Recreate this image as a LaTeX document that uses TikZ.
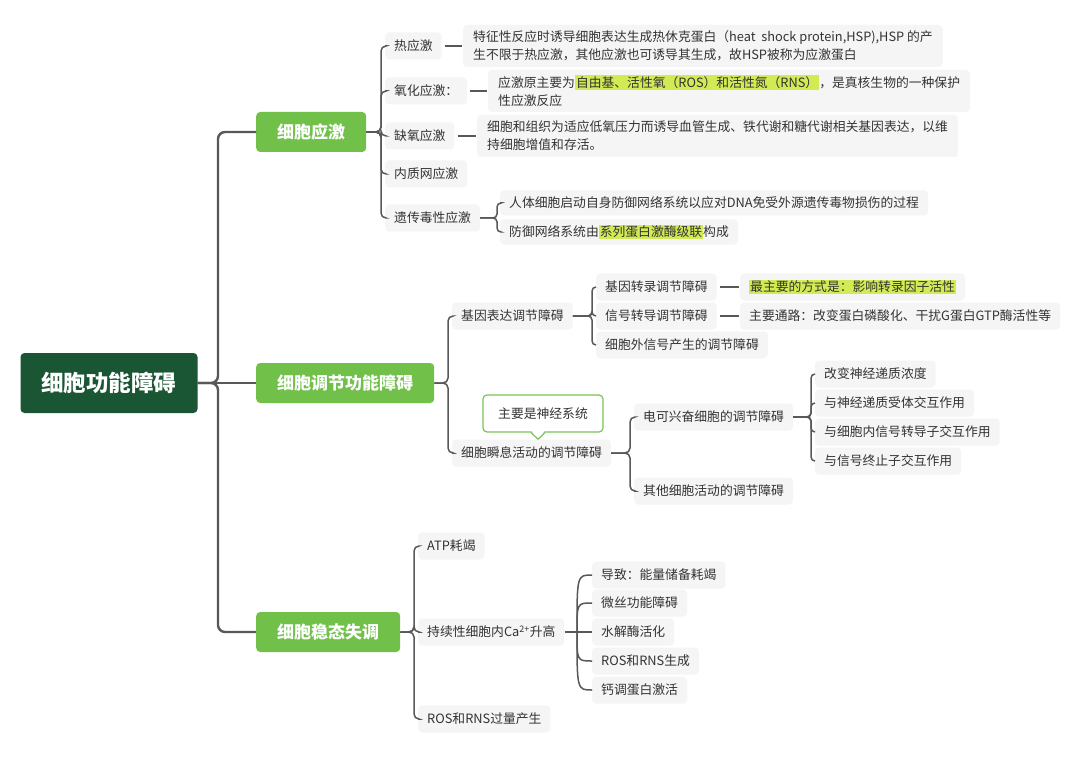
\documentclass[tikz,border=0pt]{standalone}
\usepackage{fontspec}
\setmainfont{Noto Sans CJK SC}
\usetikzlibrary{calc}
\definecolor{rootgreen}{RGB}{26,86,52}
\definecolor{maingreen}{RGB}{112,192,74}
\definecolor{calloutgreen}{RGB}{120,196,90}
\definecolor{boxgray}{RGB}{245,245,245}
\definecolor{linegray}{RGB}{88,88,88}
\definecolor{textgray}{RGB}{51,51,51}
\definecolor{hlcolor}{RGB}{210,234,84}
\newcommand{\myhl}[1]{{\setlength{\fboxsep}{1pt}\colorbox{hlcolor}{#1}}}
\tikzset{
  rootbox/.style={fill=rootgreen, rounded corners=4pt, text=white, font=\fontsize{22.5}{26}\selectfont\bfseries, inner xsep=21pt, minimum height=60pt},
  mainbox/.style={fill=maingreen, rounded corners=4pt, text=white, font=\fontsize{17}{20}\selectfont\bfseries, inner xsep=21pt, minimum height=40pt, anchor=west},
  gbox/.style={fill=boxgray, rounded corners=4pt, inner xsep=9pt, inner ysep=0pt, minimum height=27pt, text=textgray, font=\fontsize{12.8}{18}\selectfont, anchor=west},
  dbox/.style={gbox, align=left, inner xsep=10pt, inner ysep=4pt, minimum height=42pt},
  calloutbox/.style={draw=calloutgreen, line width=1.2pt, fill=white, rounded corners=4pt, minimum width=120pt, minimum height=37pt, text=textgray, font=\fontsize{12.8}{18}\selectfont},
  rootline/.style={draw=linegray, line width=2.4pt, rounded corners=7pt},
  conn/.style={draw=linegray, line width=1.5pt, rounded corners=5pt},
  dash line/.style={draw=linegray, line width=1.5pt, shorten <=3pt, shorten >=1pt}
}
\begin{document}
\begin{tikzpicture}[x=1pt,y=-1pt]
\fill[white] (0,0) rectangle (1080,757);
\useasboundingbox (0,0) rectangle (1080,757);

% root and main branches
\node[rootbox] (root) at (109,383) {细胞功能障碍};
\node[mainbox] (b1) at (256,132) {细胞应激};
\node[mainbox] (b2) at (256,383) {细胞调节功能障碍};
\node[mainbox] (b3) at (256,632) {细胞稳态失调};
\draw[rootline] (root.east) -- (218,383) |- (b1.west);
\draw[rootline] (root.east) -- (b2.west);
\draw[rootline] (root.east) -- (218,383) |- (b3.west);

% section 1
\node[gbox] (s1a) at (385,46) {热应激};
\node[gbox] (s1b) at (385,91) {氧化应激：};
\node[gbox] (s1c) at (385,136) {缺氧应激};
\node[gbox] (s1d) at (385,174) {内质网应激};
\node[gbox] (s1e) at (385,218) {遗传毒性应激};
\foreach \c in {s1a,s1b,s1c,s1d,s1e}
  \draw[conn] (b1.east) -- (381,132) |- (\c.west);

\node[dbox] (d1a) at (463,46) {特征性反应时诱导细胞表达生成热休克蛋白（heat\ \ shock protein,HSP),HSP 的产\\生不限于热应激，其他应激也可诱导其生成，故HSP被称为应激蛋白};
\node[dbox] (d1b) at (488,91) {应激原主要为\myhl{自由基、活性氧（ROS）和活性氮（RNS）}，是真核生物的一种保护\\性应激反应};
\node[dbox] (d1c) at (477,136) {细胞和组织为适应低氧压力而诱导血管生成、铁代谢和糖代谢相关基因表达，以维\\持细胞增值和存活。};
\draw[dash line] (s1a.east) -- (d1a.west);
\draw[dash line] (s1b.east) -- (d1b.west);
\draw[dash line] (s1c.east) -- (d1c.west);

\node[gbox, minimum height=25pt] (e1) at (500,203) {人体细胞启动自身防御网络系统以应对DNA免受外源遗传毒物损伤的过程};
\node[gbox, minimum height=25pt] (e2) at (500,232) {防御网络系统由\myhl{系列蛋白激酶级联}构成};
\foreach \c in {e1,e2}
  \draw[conn, rounded corners=4pt] (s1e.east) -- (497,218) |- (\c.west);

% section 2
\node[gbox] (s2a) at (452,316) {基因表达调节障碍};
\node[gbox] (s2b) at (452,453) {细胞瞬息活动的调节障碍};
\foreach \c in {s2a,s2b}
  \draw[conn] (b2.east) -- (448,383) |- (\c.west);

\node[gbox] (g1) at (596,287) {基因转录调节障碍};
\node[gbox] (g2) at (596,316) {信号转导调节障碍};
\node[gbox] (g3) at (596,345) {细胞外信号产生的调节障碍};
\foreach \c in {g1,g2,g3}
  \draw[conn, rounded corners=4pt] (s2a.east) -- (592,316) |- (\c.west);
\node[gbox] (h1) at (740,287) {\myhl{最主要的方式是：影响转录因子活性}};
\node[gbox] (h2) at (740,316) {主要通路：改变蛋白磷酸化、干扰G蛋白GTP酶活性等};
\draw[dash line] (g1.east) -- (h1.west);
\draw[dash line] (g2.east) -- (h2.west);

\node[calloutbox] (cl) at (543,413.5) {主要是神经系统};
\coordinate (tip) at ([xshift=6.5pt]s2b.north);
\fill[white] ([xshift=-11.5pt,yshift=1.5pt]cl.south) -- (tip) -- ([xshift=1.5pt,yshift=1.5pt]cl.south) -- cycle;
\draw[calloutgreen, line width=1.2pt, line join=round] ([xshift=-12pt]cl.south) -- (tip) -- ([xshift=2pt]cl.south);

\node[gbox] (k1) at (634,417) {电可兴奋细胞的调节障碍};
\node[gbox] (k2) at (634,491) {其他细胞活动的调节障碍};
\foreach \c in {k1,k2}
  \draw[conn] (s2b.east) -- (630,453) |- (\c.west);

\node[gbox] (m1) at (815,374) {改变神经递质浓度};
\node[gbox] (m2) at (815,403) {与神经递质受体交互作用};
\node[gbox] (m3) at (815,432) {与细胞内信号转导子交互作用};
\node[gbox] (m4) at (815,461) {与信号终止子交互作用};
\foreach \c in {m1,m2,m3,m4}
  \draw[conn, rounded corners=4pt] (k1.east) -- (811,417) |- (\c.west);

% section 3
\node[gbox] (s3a) at (418,546) {ATP耗竭};
\node[gbox] (s3b) at (418,632) {持续性细胞内Ca\textsuperscript{2+}升高};
\node[gbox] (s3c) at (418,719) {ROS和RNS过量产生};
\foreach \c in {s3a,s3b,s3c}
  \draw[conn] (b3.east) -- (414,632) |- (\c.west);

\node[gbox] (n1) at (592,575) {导致：能量储备耗竭};
\node[gbox] (n2) at (592,603) {微丝功能障碍};
\node[gbox] (n3) at (592,632) {水解酶活化};
\node[gbox] (n4) at (592,661) {ROS和RNS生成};
\node[gbox] (n5) at (592,690) {钙调蛋白激活};
\coordinate (fj) at (577,632);
\draw[conn] (s3b.east) -- (n3.west);
\foreach \c in {n1,n2,n4,n5}
  \draw[conn] (fj) .. controls (fj|-\c.west) .. (\c.west);
\end{tikzpicture}
\end{document}
